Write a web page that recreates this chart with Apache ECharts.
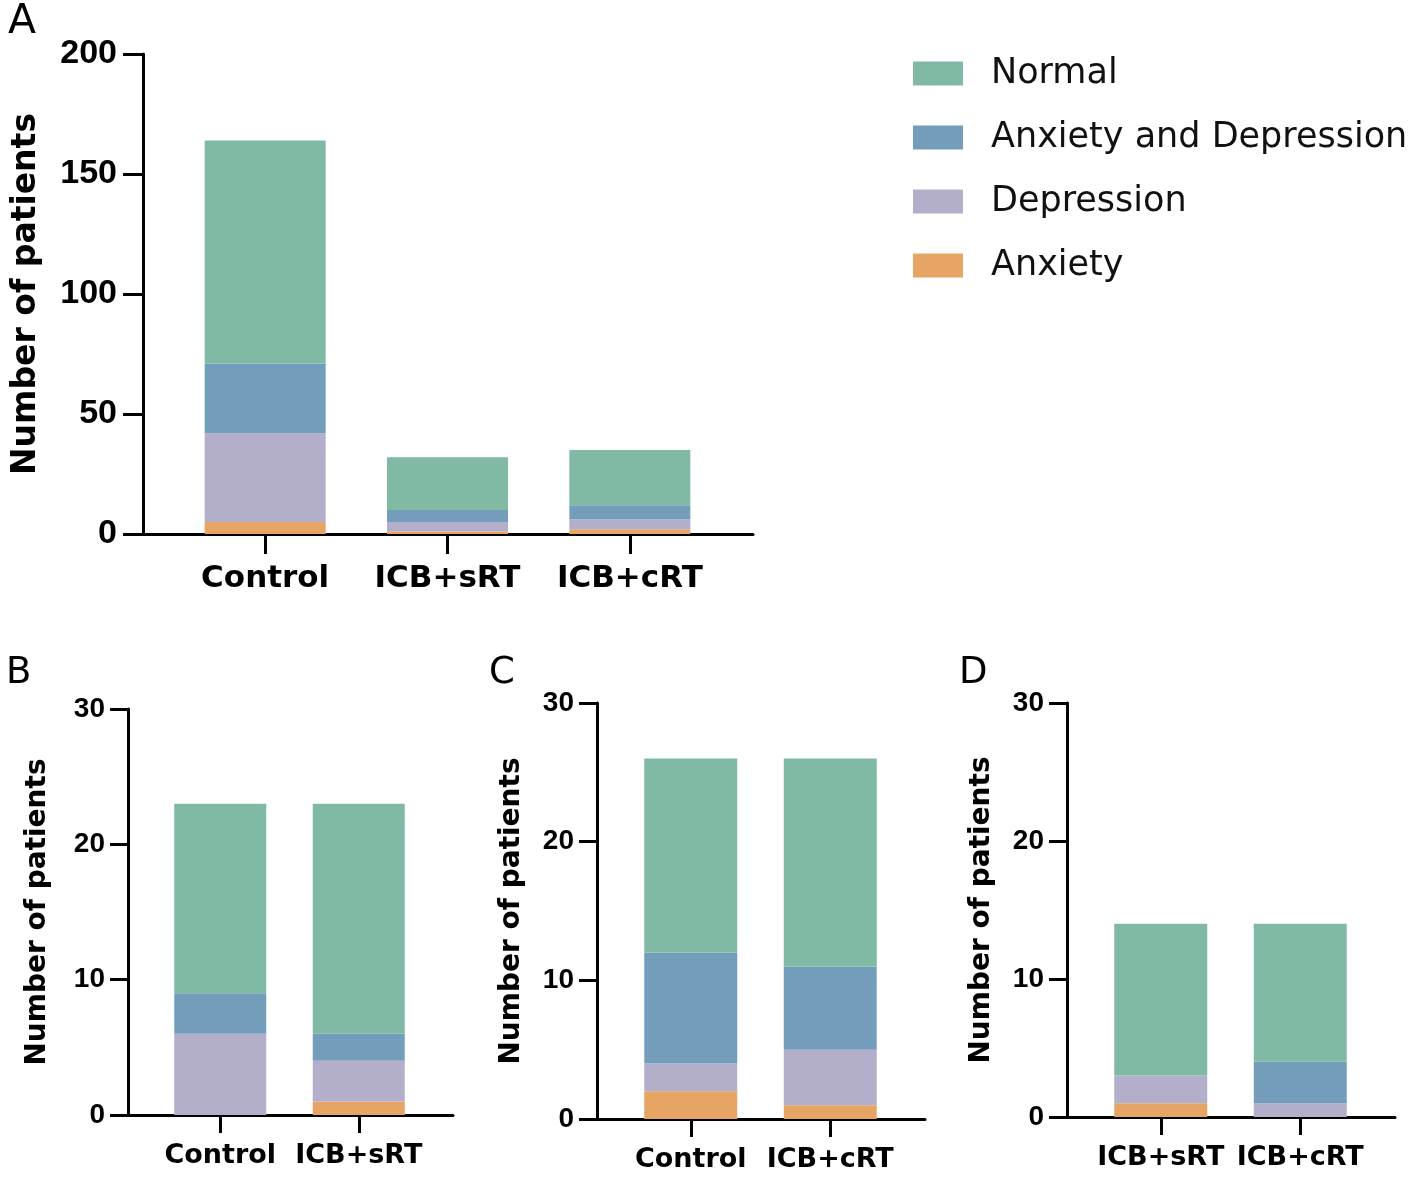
<!DOCTYPE html>
<html><head><meta charset="utf-8">
<script src="https://cdn.jsdelivr.net/npm/echarts@6/dist/echarts.min.js"></script>
<style>html,body{margin:0;padding:0;background:#fff}#c{width:1417px;height:1181px}</style>
</head><body><div id="c"></div>
<script>
// ---------- data ----------
const seriesNames = ['Anxiety', 'Depression', 'Anxiety and Depression', 'Normal'];
const legendOrder = ['Normal', 'Anxiety and Depression', 'Depression', 'Anxiety'];

const categoriesA = ['Control', 'ICB+sRT', 'ICB+cRT'];
const anxietyA = [5, 1, 2];
const depressionA = [37, 4, 4];
const anxDepA = [29, 5, 6];
const normalA = [93, 22, 23];
const ticksA = [0, 50, 100, 150, 200];

const categoriesB = ['Control', 'ICB+sRT'];
const anxietyB = [0, 1];
const depressionB = [6, 3];
const anxDepB = [3, 2];
const normalB = [14, 17];

const categoriesC = ['Control', 'ICB+cRT'];
const anxietyC = [2, 1];
const depressionC = [2, 4];
const anxDepC = [8, 6];
const normalC = [14, 15];

const categoriesD = ['ICB+sRT', 'ICB+cRT'];
const anxietyD = [1, 0];
const depressionD = [2, 1];
const anxDepD = [0, 3];
const normalD = [11, 10];
const ticksBCD = [0, 10, 20, 30];

const yTitle = 'Number of patients';

// ---------- styles / layout ----------
const colors = {
  'Anxiety': '#E6A564',
  'Depression': '#B3AFCB',
  'Anxiety and Depression': '#749DBB',
  'Normal': '#80BAA5'
};
const FONT = 'DejaVu Sans';
const NUMFONT = 'Liberation Sans';
const W = 1417, H = 1181;

const panels = [
  { letter: 'A', letterPos: [8, 2], letterSize: 41,
    cats: categoriesA, layers: [anxietyA, depressionA, anxDepA, normalA], ticks: ticksA,
    frameL: 143, frameR: 753, top: 54, zero: 534, innerL: 174, innerR: 721, barWidth: 121,
    tickLen: 20, yLabelSize: 34, yLabelMargin: 26, xLabelSize: 31, xLabelMargin: 29,
    titleSize: 33, nameGap: 100 },
  { letter: 'B', letterPos: [6, 655], letterSize: 37,
    cats: categoriesB, layers: [anxietyB, depressionB, anxDepB, normalB], ticks: ticksBCD,
    frameL: 128, frameR: 453, top: 709, zero: 1115, innerL: 151, innerR: 428, barWidth: 92,
    tickLen: 18, yLabelSize: 28, yLabelMargin: 23, xLabelSize: 27, xLabelMargin: 27,
    titleSize: 28, nameGap: 76 },
  { letter: 'C', letterPos: [489, 655], letterSize: 37,
    cats: categoriesC, layers: [anxietyC, depressionC, anxDepC, normalC], ticks: ticksBCD,
    frameL: 597, frameR: 925, top: 703, zero: 1119, innerL: 621, innerR: 900, barWidth: 93,
    tickLen: 18, yLabelSize: 28, yLabelMargin: 23, xLabelSize: 27, xLabelMargin: 27,
    titleSize: 28, nameGap: 71 },
  { letter: 'D', letterPos: [959, 655], letterSize: 37,
    cats: categoriesD, layers: [anxietyD, depressionD, anxDepD, normalD], ticks: ticksBCD,
    frameL: 1067, frameR: 1395, top: 703, zero: 1117, innerL: 1091, innerR: 1370, barWidth: 93,
    tickLen: 18, yLabelSize: 28, yLabelMargin: 23, xLabelSize: 27, xLabelMargin: 27,
    titleSize: 28, nameGap: 71 }
];

const grid = [], xAxis = [], yAxis = [], series = [], title = [];

panels.forEach((p, i) => {
  const yMin = p.ticks[0], yMax = p.ticks[p.ticks.length - 1];
  const yInt = p.ticks[1] - p.ticks[0];
  const frameIdx = grid.length;
  // frame grid: carries the y axis and the full-length x axis line
  grid.push({ left: p.frameL, right: W - p.frameR, top: p.top, bottom: H - p.zero, containLabel: false });
  xAxis.push({ type: 'value', gridIndex: frameIdx, min: 0, max: 1,
    axisLine: { show: true, onZero: false, lineStyle: { color: '#000', width: 3 } },
    axisTick: { show: false }, axisLabel: { show: false }, splitLine: { show: false } });
  yAxis.push({ type: 'value', gridIndex: frameIdx, min: yMin, max: yMax, interval: yInt,
    axisLine: { show: true, lineStyle: { color: '#000', width: 3 } },
    axisTick: { show: true, length: p.tickLen, lineStyle: { color: '#000', width: 3 } },
    axisLabel: { color: '#000', fontFamily: NUMFONT, fontWeight: 'bold', fontSize: p.yLabelSize, margin: p.yLabelMargin },
    splitLine: { show: false },
    name: yTitle, nameLocation: 'middle', nameGap: p.nameGap,
    nameTextStyle: { color: '#000', fontFamily: FONT, fontWeight: 'bold', fontSize: p.titleSize } });
  // inner grid: bars on category axis
  const innerIdx = grid.length;
  grid.push({ left: p.innerL, right: W - p.innerR, top: p.top, bottom: H - p.zero, containLabel: false });
  xAxis.push({ type: 'category', gridIndex: innerIdx, data: p.cats,
    axisLine: { show: false },
    axisTick: { show: true, alignWithLabel: true, length: p.tickLen, lineStyle: { color: '#000', width: 3 } },
    axisLabel: { color: '#000', fontFamily: FONT, fontWeight: 'bold', fontSize: p.xLabelSize, margin: p.xLabelMargin, interval: 0 },
    splitLine: { show: false } });
  yAxis.push({ type: 'value', gridIndex: innerIdx, min: yMin, max: yMax, interval: yInt, show: false });

  p.layers.forEach((vals, k) => {
    const nm = seriesNames[k];
    series.push({ type: 'bar', name: nm, stack: 'panel' + p.letter,
      xAxisIndex: innerIdx, yAxisIndex: innerIdx, data: vals, barWidth: p.barWidth,
      itemStyle: { color: colors[nm] }, emphasis: { disabled: true } });
  });

  title.push({ text: p.letter, left: p.letterPos[0], top: p.letterPos[1], padding: 0,
    textStyle: { color: '#000', fontFamily: FONT, fontWeight: 'normal', fontSize: p.letterSize } });
});

const option = {
  animation: false,
  backgroundColor: '#fff',
  title: title,
  legend: {
    data: legendOrder, orient: 'vertical', left: 913, top: 56, padding: 0,
    icon: 'rect', itemWidth: 50, itemHeight: 24, itemGap: 29,
    selectedMode: false,
    textStyle: { color: '#111', fontFamily: FONT, fontSize: 35, lineHeight: 35, padding: [0, 0, 0, 23] }
  },
  grid: grid, xAxis: xAxis, yAxis: yAxis, series: series
};

const chart = echarts.init(document.getElementById('c'), null, { renderer: 'canvas' });
chart.setOption(option);
</script></body></html>
